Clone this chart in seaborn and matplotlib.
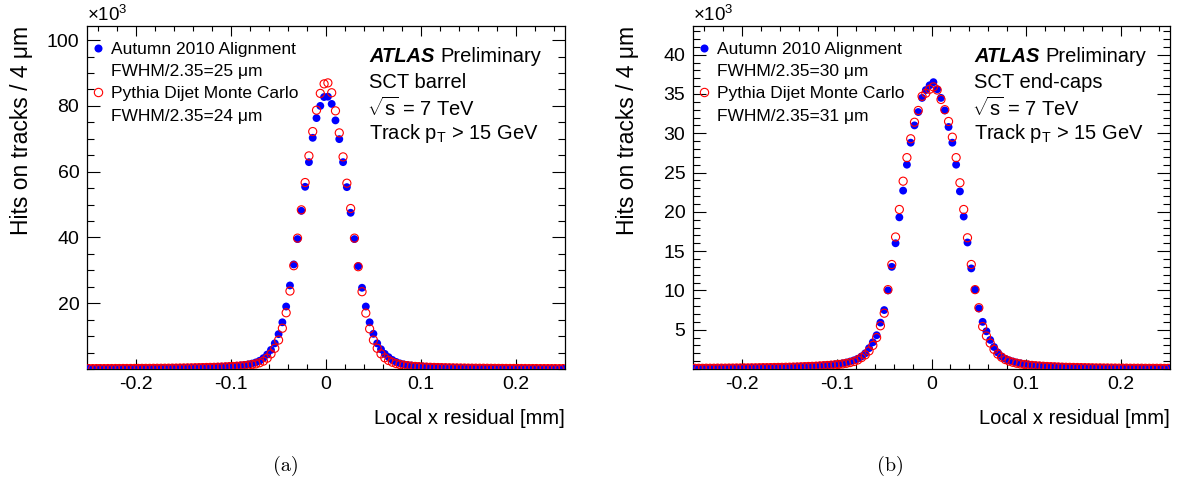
import numpy as np
import matplotlib.pyplot as plt
from matplotlib.lines import Line2D
from matplotlib.ticker import FixedLocator, MultipleLocator
import seaborn as sns

# residual bins: 4 um wide, centred on +-0.002, +-0.006 ... +-0.250 mm
bin_width = 0.004
residual_mm = np.round(np.arange(-0.250, 0.2501, bin_width), 3)

# hits per bin, in units of 10^3
barrel_data = [
    0.14, 0.14, 0.15, 0.15, 0.16, 0.16, 0.17, 0.17, 0.18, 0.18,
    0.19, 0.20, 0.20, 0.21, 0.22, 0.23, 0.24, 0.25, 0.26, 0.27,
    0.28, 0.30, 0.31, 0.33, 0.35, 0.37, 0.39, 0.41, 0.44, 0.47,
    0.50, 0.53, 0.57, 0.61, 0.65, 0.70, 0.76, 0.82, 0.90, 0.98,
    1.08, 1.22, 1.40, 1.65, 2.00, 2.50, 3.30, 4.40, 5.80, 7.80,
    10.6, 14.2, 19.0, 25.4, 31.8, 39.5, 48.1, 55.4, 62.9, 70.3,
    76.3, 80.0, 82.7, 82.8, 80.6, 75.6, 69.9, 62.9, 55.3, 47.5,
    39.5, 31.3, 24.7, 19.0, 14.2, 10.7, 7.80, 6.00, 4.60, 3.60,
    2.75, 2.15, 1.70, 1.40, 1.20, 1.05, 0.93, 0.83, 0.75, 0.68,
    0.62, 0.57, 0.53, 0.49, 0.46, 0.43, 0.40, 0.38, 0.36, 0.34,
    0.32, 0.30, 0.29, 0.27, 0.26, 0.25, 0.24, 0.23, 0.22, 0.21,
    0.20, 0.19, 0.19, 0.18, 0.17, 0.17, 0.16, 0.16, 0.15, 0.15,
    0.15, 0.14, 0.14, 0.14, 0.13, 0.13,
]
barrel_mc = [
    0.12, 0.12, 0.13, 0.13, 0.13, 0.14, 0.14, 0.15, 0.15, 0.16,
    0.16, 0.17, 0.17, 0.18, 0.19, 0.19, 0.20, 0.21, 0.22, 0.23,
    0.24, 0.25, 0.27, 0.28, 0.30, 0.31, 0.33, 0.35, 0.38, 0.40,
    0.43, 0.46, 0.49, 0.52, 0.56, 0.60, 0.65, 0.71, 0.77, 0.85,
    0.93, 1.03, 1.16, 1.32, 1.55, 1.90, 2.40, 3.30, 4.60, 6.30,
    8.80, 12.4, 17.1, 23.7, 31.4, 39.8, 48.4, 56.7, 64.8, 72.2,
    78.7, 83.8, 86.7, 87.0, 84.0, 78.5, 71.8, 64.5, 56.5, 48.8,
    39.8, 31.1, 23.5, 17.0, 12.2, 8.80, 6.30, 4.60, 3.40, 2.60,
    2.05, 1.65, 1.35, 1.15, 1.00, 0.88, 0.78, 0.70, 0.63, 0.57,
    0.52, 0.48, 0.45, 0.42, 0.39, 0.36, 0.34, 0.32, 0.30, 0.29,
    0.27, 0.26, 0.25, 0.24, 0.23, 0.22, 0.21, 0.20, 0.19, 0.18,
    0.17, 0.17, 0.16, 0.16, 0.15, 0.15, 0.14, 0.14, 0.14, 0.13,
    0.13, 0.13, 0.12, 0.12, 0.12, 0.12,
]
endcap_data = [
    0.10, 0.10, 0.10, 0.11, 0.11, 0.11, 0.12, 0.12, 0.12, 0.13,
    0.13, 0.14, 0.14, 0.15, 0.15, 0.16, 0.17, 0.17, 0.18, 0.19,
    0.20, 0.21, 0.22, 0.23, 0.24, 0.26, 0.27, 0.29, 0.31, 0.33,
    0.35, 0.37, 0.40, 0.43, 0.46, 0.50, 0.54, 0.59, 0.65, 0.72,
    0.82, 0.95, 1.10, 1.30, 1.60, 2.00, 2.65, 3.40, 4.30, 5.90,
    7.50, 10.0, 13.0, 16.0, 19.3, 22.7, 26.0, 28.8, 31.0, 32.7,
    34.5, 35.5, 36.1, 36.5, 35.6, 34.5, 32.9, 30.8, 28.8, 26.0,
    22.6, 19.4, 16.1, 12.8, 10.1, 7.70, 6.00, 4.80, 3.70, 2.80,
    2.10, 1.60, 1.30, 1.10, 0.95, 0.82, 0.72, 0.64, 0.57, 0.51,
    0.46, 0.42, 0.38, 0.35, 0.32, 0.30, 0.28, 0.26, 0.24, 0.22,
    0.21, 0.20, 0.19, 0.18, 0.17, 0.16, 0.15, 0.15, 0.14, 0.14,
    0.13, 0.13, 0.12, 0.12, 0.12, 0.11, 0.11, 0.11, 0.10, 0.10,
    0.10, 0.10, 0.10, 0.09, 0.09, 0.09,
]
endcap_mc = [
    0.09, 0.09, 0.09, 0.10, 0.10, 0.10, 0.11, 0.11, 0.11, 0.12,
    0.12, 0.13, 0.13, 0.14, 0.14, 0.15, 0.15, 0.16, 0.17, 0.17,
    0.18, 0.19, 0.20, 0.21, 0.22, 0.23, 0.25, 0.26, 0.28, 0.30,
    0.32, 0.34, 0.36, 0.39, 0.42, 0.45, 0.49, 0.53, 0.58, 0.64,
    0.72, 0.82, 0.95, 1.15, 1.45, 1.80, 2.30, 3.00, 4.00, 5.50,
    7.10, 10.1, 13.3, 16.8, 20.3, 23.9, 26.9, 29.3, 31.4, 32.9,
    34.7, 35.1, 35.6, 35.9, 35.5, 34.3, 33.0, 31.5, 29.5, 26.9,
    23.7, 20.3, 16.7, 13.3, 10.1, 7.80, 5.40, 4.20, 3.30, 2.50,
    1.90, 1.50, 1.20, 1.00, 0.85, 0.73, 0.64, 0.57, 0.51, 0.46,
    0.41, 0.38, 0.35, 0.32, 0.30, 0.28, 0.26, 0.24, 0.22, 0.21,
    0.20, 0.19, 0.18, 0.17, 0.16, 0.15, 0.14, 0.14, 0.13, 0.13,
    0.12, 0.12, 0.11, 0.11, 0.11, 0.10, 0.10, 0.10, 0.10, 0.09,
    0.09, 0.09, 0.09, 0.09, 0.08, 0.08,
]

x_ticks = [-0.2, -0.1, 0.0, 0.1, 0.2]
x_tick_labels = ['-0.2', '-0.1', '0', '0.1', '0.2']
barrel_yticks = [20, 40, 60, 80, 100]
endcap_yticks = [5, 10, 15, 20, 25, 30, 35, 40]

panels = [
    dict(data=barrel_data, mc=barrel_mc, ylim=104.3, yticks=barrel_yticks, yminor=5,
         region='SCT barrel', fwhm_data='25', fwhm_mc='24', tag='(a)'),
    dict(data=endcap_data, mc=endcap_mc, ylim=43.65, yticks=endcap_yticks, yminor=1,
         region='SCT end-caps', fwhm_data='30', fwhm_mc='31', tag='(b)'),
]

sns.set_style('ticks')
plt.rcParams['font.family'] = ['Liberation Sans', 'DejaVu Sans']
plt.rcParams['mathtext.fontset'] = 'custom'
plt.rcParams['mathtext.rm'] = 'Liberation Sans'
plt.rcParams['mathtext.it'] = 'Liberation Sans:italic'
plt.rcParams['axes.unicode_minus'] = False
# plain black text like the ROOT original
for key in ['text.color', 'axes.labelcolor', 'xtick.color', 'ytick.color',
            'xtick.labelcolor', 'ytick.labelcolor', 'axes.edgecolor']:
    plt.rcParams[key] = 'black'

fig = plt.figure(figsize=(11.79, 4.84), dpi=100)
axes_rects = [[0.0738, 0.2376, 0.4054, 0.7087], [0.5878, 0.2376, 0.4046, 0.7087]]
tag_x = [0.2426, 0.7549]

for rect, p, tx in zip(axes_rects, panels, tag_x):
    ax = fig.add_axes(rect)
    sns.scatterplot(x=residual_mm, y=p['data'], ax=ax, color='blue', s=32,
                    edgecolor='none', linewidth=0, zorder=3)
    sns.scatterplot(x=residual_mm, y=p['mc'], ax=ax, marker='o', s=34,
                    color='red', facecolors='none', edgecolor='red',
                    linewidth=0.8, zorder=4)

    ax.set_xlim(-0.252, 0.252)
    ax.set_ylim(0, p['ylim'])
    ax.xaxis.set_major_locator(FixedLocator(x_ticks))
    ax.set_xticklabels(x_tick_labels)
    ax.xaxis.set_minor_locator(MultipleLocator(0.02))
    ax.yaxis.set_major_locator(FixedLocator(p['yticks']))
    ax.set_yticklabels([str(v) for v in p['yticks']])
    ax.yaxis.set_minor_locator(MultipleLocator(p['yminor']))

    ax.tick_params(which='both', direction='in', top=True, right=True,
                   labelsize=14, width=0.8, color='black', labelcolor='black')
    ax.tick_params(axis='x', which='major', length=7.5, pad=5)
    ax.tick_params(axis='x', which='minor', length=3.8)
    ax.tick_params(axis='y', which='major', length=9.5, pad=5.5)
    ax.tick_params(axis='y', which='minor', length=4.8)
    for s in ax.spines.values():
        s.set_linewidth(0.9)
        s.set_color('black')

    ax.set_xlabel('Local x residual [mm]', loc='right', fontsize=14.5)
    ax.xaxis.set_label_coords(1.0, -0.118)
    ax.set_ylabel('Hits on tracks / 4 \u03bcm', loc='top', fontsize=16.5)
    ax.yaxis.set_label_coords(-0.113, 1.0)
    ax.text(0.0, 1.004, r'$\times10^{3}$', transform=ax.transAxes,
            ha='left', va='bottom', fontsize=13.5)

    handles = [
        Line2D([], [], ls='none', marker='o', color='blue', mec='none', ms=5.8),
        Line2D([], [], ls='none'),
        Line2D([], [], ls='none', marker='o', mfc='none', mec='red', mew=0.8, ms=6.0),
        Line2D([], [], ls='none'),
    ]
    labels = ['Autumn 2010 Alignment', 'FWHM/2.35=%s \u03bcm' % p['fwhm_data'],
              'Pythia Dijet Monte Carlo', 'FWHM/2.35=%s \u03bcm' % p['fwhm_mc']]
    ax.legend(handles, labels, loc='upper left', bbox_to_anchor=(0.012, 0.953),
              frameon=False, fontsize=12.5, handlelength=0.6, handletextpad=0.45,
              borderpad=0, borderaxespad=0, labelspacing=0.40)

    atlas = ax.text(0.59, 0.912, 'ATLAS', transform=ax.transAxes, fontsize=14.5,
                    fontweight='bold', fontstyle='italic', va='center', ha='left')
    ax.annotate('Preliminary', xy=(1, 0), xycoords=atlas, xytext=(4, 0),
                textcoords='offset points', fontsize=14.5, va='bottom', ha='left')
    ax.text(0.59, 0.835, p['region'], transform=ax.transAxes, fontsize=14.5, va='center')
    ax.text(0.585, 0.759, r'$\sqrt{\mathrm{s}}$ = 7 TeV', transform=ax.transAxes,
            fontsize=14.5, va='center')
    ax.text(0.59, 0.686, r'Track p$_{\mathrm{T}}$ > 15 GeV', transform=ax.transAxes,
            fontsize=14.5, va='center')

    fig.text(tx, 0.037, p['tag'], family='cmr10', fontsize=14.5, ha='center', va='center')

fig.savefig('out.png', dpi=100)
